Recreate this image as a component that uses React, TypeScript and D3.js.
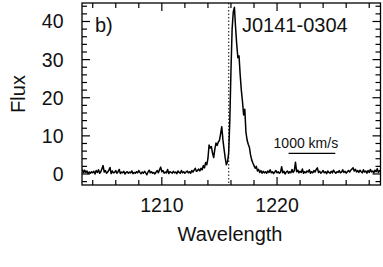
import React from "react";
import * as d3 from "d3";

// spectrum sampled every 0.1 A starting at 1203.1 A
const waveStart = 1203.1;
const waveStep = 0.1;
const flux = [
  1.2, 0.3, 1.0, 0.4, 0.8, 0.1, 0.5, 0.2, 0.6, 0.3,
  0.7, 0.0, 0.9, 0.4, 1.1, 0.2, 0.6, 1.4, 2.2, 0.5,
  0.9, 0.2, 0.5, 1.0, 1.7, 0.1, 0.8, 0.3, 0.4, 0.9,
  0.2, 0.6, 1.2, 0.1, 0.5, 0.3, 0.7, 0.0, 0.4, 0.6,
  0.2, 0.5, 0.3, 0.8, 0.1, 0.4, 0.2, 0.6, 0.3, 0.9,
  0.4, 0.1, 0.5, 0.2, 0.7, 0.3, -0.2, 0.5, 1.0, 0.3,
  0.6, 0.2, 0.4, 0.0, 0.5, 0.9, 0.3, 1.1, 1.8, 0.6,
  0.9, 0.2, 0.5, 0.3, 1.2, 0.1, 0.6, 0.4, 0.2, 0.7,
  0.3, 0.5, 0.1, 0.8, 0.4, 0.2, 0.9, 0.3, 0.6, 0.2,
  0.5, 0.8, 0.3, 0.6, 0.2, 0.9, 0.5, 1.0, 1.5, 0.7,
  0.9, 1.3, 0.8, 1.5, 1.1, 2.2, 1.6, 3.0, 2.4, 4.0,
  7.6, 6.8, 7.2, 5.5, 4.3, 6.5, 8.1, 7.5, 8.4, 8.8,
  10.5, 12.4, 9.0, 6.5, 4.2, 2.4, 3.2, 5.5, 14.0, 27.0,
  38.0, 42.5, 43.7, 38.5, 34.0, 30.5, 31.0, 26.0, 22.0, 19.0,
  15.5, 17.0, 11.0, 8.9, 7.8, 7.0, 5.0, 3.7, 2.9, 2.2,
  1.5, 2.0, 0.8, 1.2, 0.4, 0.9, 0.2, 0.7, 0.3, 0.6,
  0.2, 0.8, 0.4, 1.1, 0.3, 0.6, 0.1, 0.5, 0.9, 0.3,
  0.6, 0.2, 0.4, 1.9, 0.3, 0.7, 0.0, 0.5, 0.8, 0.2,
  0.6, 0.3, 1.2, 0.4, 0.9, 3.1, 0.6, 1.0, 0.3, 0.7,
  0.4, 1.3, 0.2, 0.6, 0.3, 0.8, 0.5, 1.1, 0.2, 0.6,
  0.3, 0.9, 0.5, 1.2, 1.6, 0.4, 0.7, 0.2, 0.5, 0.9,
  0.3, 0.6, 0.1, 0.8, 0.4, 0.2, 0.7, 0.3, 1.0, 0.5,
  0.2, 0.6, 0.4, 0.9, 0.3, 0.5, 1.1, 0.4, 0.7, 0.2,
  0.6, 0.9, 0.5, 1.0, 1.3, 1.6, 0.8, 1.2, 0.5, 0.9,
  0.4, 1.0, 0.6, 0.3, 1.1, 0.5, 0.8, 0.2, 0.9, 0.4,
  1.2, 0.5, 0.8, 0.3, 1.0, 0.6, 1.4, 0.4, 0.9, 0.7,
];

const xMajorTicks = [1210, 1220];
const xMinorTicks = [1204, 1206, 1208, 1212, 1214, 1216, 1218, 1222, 1224, 1226, 1228];
const yMajorTicks = [0, 10, 20, 30, 40];
const yMinorTicks = [-2, 2, 4, 6, 8, 12, 14, 16, 18, 22, 24, 26, 28, 32, 34, 36, 38, 42, 44];

const lyaLine = 1215.8;
const scaleBarStart = 1221.0;
const scaleBarKms = 1000;
const panelLabel = "b)";
const objectName = "J0141-0304";

const width = 383, height = 267;
const margin = { left: 82, right: 2.5, top: 3, bottom: 82 };
const font = "'Liberation Sans', Arial, Helvetica, sans-serif";

export default function App() {
  const x = d3.scaleLinear().domain([1203.07, 1228.98]).range([margin.left, width - margin.right]);
  const y = d3.scaleLinear().domain([-2.89, 44.85]).range([height - margin.bottom, margin.top]);

  const pts: [number, number][] = flux.map((f, i) => [waveStart + i * waveStep, f]);
  const line = d3.line<[number, number]>().x(d => x(d[0])).y(d => y(d[1]));

  const x0 = x.range()[0], x1 = x.range()[1];
  const y0 = y.range()[0], y1 = y.range()[1];
  const major = 8, minor = 5;

  // 1000 km/s at the line centre
  const barEnd = scaleBarStart + lyaLine * scaleBarKms / 299792.458;

  return (
    <svg width={width} height={height} style={{ position: "absolute", left: 0, top: 0, background: "#fff" }}>
      <clipPath id="plot">
        <rect x={x0} y={y1} width={x1 - x0} height={y0 - y1} />
      </clipPath>
      <line x1={x(lyaLine)} x2={x(lyaLine)} y1={y1} y2={y0} stroke="#444" strokeWidth={1.3} strokeDasharray="1.5,2" />
      <path d={line(pts) || ""} fill="none" stroke="#000" strokeWidth={1.5} strokeLinejoin="round" clipPath="url(#plot)" />

      {/* ticks on all sides, inward */}
      <g stroke="#000" strokeWidth={1.2}>
        {xMajorTicks.map(t => (
          <g key={"xM" + t}>
            <line x1={x(t)} x2={x(t)} y1={y0} y2={y0 - major} />
            <line x1={x(t)} x2={x(t)} y1={y1} y2={y1 + major} />
          </g>
        ))}
        {xMinorTicks.map(t => (
          <g key={"xm" + t}>
            <line x1={x(t)} x2={x(t)} y1={y0} y2={y0 - minor} />
            <line x1={x(t)} x2={x(t)} y1={y1} y2={y1 + minor} />
          </g>
        ))}
        {yMajorTicks.map(t => (
          <g key={"yM" + t}>
            <line x1={x0} x2={x0 + major} y1={y(t)} y2={y(t)} />
            <line x1={x1} x2={x1 - major} y1={y(t)} y2={y(t)} />
          </g>
        ))}
        {yMinorTicks.map(t => (
          <g key={"ym" + t}>
            <line x1={x0} x2={x0 + minor} y1={y(t)} y2={y(t)} />
            <line x1={x1} x2={x1 - minor} y1={y(t)} y2={y(t)} />
          </g>
        ))}
      </g>
      <rect x={x0} y={y1} width={x1 - x0} height={y0 - y1} fill="none" stroke="#000" strokeWidth={1.3} />

      <g fontFamily={font} fontSize={19.5} fill="#111">
        {xMajorTicks.map(t => (
          <text key={"xl" + t} x={x(t)} y={211.5} textAnchor="middle">{t}</text>
        ))}
        {yMajorTicks.map(t => (
          <text key={"yl" + t} x={63.5} y={y(t) + 7} textAnchor="end">{t}</text>
        ))}
        <text x={230} y={241} textAnchor="middle" fontSize={20}>Wavelength</text>
        <text transform={`translate(25,${(y0 + y1) / 2}) rotate(-90)`} textAnchor="middle" fontSize={20}>Flux</text>
        <text x={95} y={32} fontSize={20}>{panelLabel}</text>
        <text x={242} y={31.5} fontSize={20}>{objectName}</text>
      </g>

      <text x={x(scaleBarStart) - 15} y={148} fontFamily={font} fontSize={14} fill="#111">{scaleBarKms} km/s</text>
      <line x1={x(scaleBarStart)} x2={x(barEnd)} y1={153.3} y2={153.3} stroke="#000" strokeWidth={1.3} />
    </svg>
  );
}
